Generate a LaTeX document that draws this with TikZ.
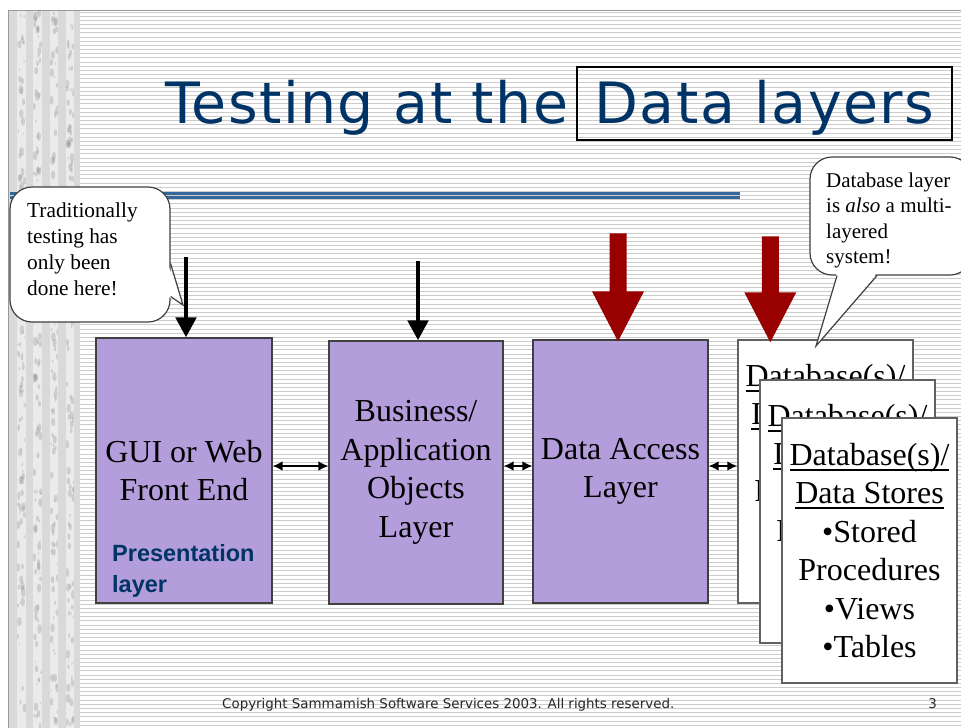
\documentclass[tikz,border=0pt]{standalone}
\usepackage{fontspec}
\setmainfont{Liberation Serif}
\newfontfamily\headfont[LetterSpace=2.5]{DejaVu Sans}
\newfontfamily\footfont{DejaVu Sans}
\newfontfamily\tagfont{Liberation Sans}
\usetikzlibrary{arrows.meta,calc}
\definecolor{navy}{RGB}{0,51,102}
\definecolor{rulebl}{RGB}{51,102,153}
\definecolor{lilac}{RGB}{179,157,219}
\definecolor{brick}{RGB}{153,0,0}
\definecolor{framegray}{RGB}{64,64,64}
% underline set at a fixed depth below the baseline
\newcommand\dbline[1]{\setbox0\hbox{#1}\leavevmode\rlap{\rule[-5.5pt]{\wd0}{1.8pt}}\box0}
\newcommand\storelist{\dbline{Database(s)/}\\\dbline{Data Stores}\\•Stored\\Procedures\\•Views\\•Tables}
\begin{document}
\begin{tikzpicture}[x=1pt,y=-1pt,
  layerbox/.style={draw=framegray, line width=1.2pt, fill=lilac, inner sep=0pt, align=center,
    font=\fontsize{32}{38.5}\selectfont},
  storecard/.style={draw=black!62, line width=1.4pt, fill=white, minimum width=175pt,
    minimum height=263pt, inner sep=0pt, align=center, font=\fontsize{32}{38.5}\selectfont},
  callbox/.style={draw=framegray, line width=1.2pt, fill=white, rounded corners=22pt, inner sep=0pt},
  calltext/.style={anchor=base west, align=left, inner sep=0pt},
  tailline/.style={draw=framegray, line width=1.2pt, line join=miter},
  link/.style={{Latex[length=10pt,width=9.5pt]}-{Latex[length=10pt,width=9.5pt]}, line width=1.5pt},
  probe/.style={-{Triangle[length=20pt,width=20pt]}, line width=4.8pt},
  heavyprobe/.style={fill=brick},
]
\clip (0,0) rectangle (961,728);
\fill[white] (0,0) rectangle (961,728);

% ruled paper background
\foreach \k in {0,...,171}
  \draw[black!20, line width=0.8pt] (80,{12+\k*4.17}) -- (961,{12+\k*4.17});

% marbled strip on the left
\fill[black!8] (8,10) rectangle (80,728);
\pgfmathsetseed{11}
\foreach \c in {17,33,50,66}{
  \foreach \k in {1,...,110}{
    \pgfmathsetmacro\px{\c+1+rnd*7}
    \pgfmathsetmacro\py{12+rnd*714}
    \pgfmathsetmacro\pr{0.6+rnd*1.8}
    \fill[black!45, opacity=0.3] (\px,\py) ellipse [x radius=\pr pt, y radius=2*\pr pt];
  }
}
\foreach \a/\b in {8/17,26/33,42/50,58/66,74/80}
  \fill[black!15] (\a,10) rectangle (\b,728);
\draw[black!40, line width=1pt] (8,728) -- (8,10) -- (961,10);

% heading
\node[anchor=base west, inner sep=0pt, font=\headfont\fontsize{57}{60}\selectfont, text=navy]
  (head) at (165,123) {Testing at the};
\node[draw=black, line width=2.5pt, minimum width=375pt, minimum height=73pt, inner sep=0pt,
  text height=42pt, text depth=3pt, font=\headfont\fontsize{57}{60}\selectfont, text=navy]
  (headbox) at (764.5,103.5) {Data layers};

% double rule under the heading
\draw[rulebl, line width=2.4pt] (10,193.5) -- (740,193.5);
\draw[rulebl, line width=2.4pt] (10,197.4) -- (740,197.4);

% layers
\node[layerbox, minimum width=176pt, minimum height=265pt] (gui) at (184,470.5) {GUI or Web\\Front End};
\node[anchor=base west, inner sep=0pt, align=left, text=navy,
  font=\tagfont\bfseries\fontsize{23.5}{31}\selectfont] (tag) at (112,592) {Presentation\\layer};
\node[layerbox, minimum width=174pt, minimum height=263pt] (biz) at (416,472.5)
  {Business/\\Application\\Objects\\Layer};
\node[layerbox, minimum width=175pt, minimum height=263pt] (dal) at (620.5,471.5) {Data Access\\Layer};

% stacked data store cards
\node[storecard] (db1) at (825.5,471.5) {\storelist};
\node[storecard] (db2) at (847.5,511.5) {\storelist};
\node[storecard, minimum height=265pt] (db3) at (869.5,550.5) {\storelist};

% test entry points
\draw[probe] ($(gui.north)+(2,-80)$) -- ($(gui.north)+(2,0)$);
\draw[probe] ($(biz.north)+(2,-79)$) -- ($(biz.north)+(2,0)$);
\fill[heavyprobe, shift={($(dal.north)+(-2.5,2)$)}]
  (0,0) -- (26,-50) -- (8.5,-50) -- (8.5,-108) -- (-8.5,-108) -- (-8.5,-50) -- (-26,-50) -- cycle;
\fill[heavyprobe, shift={($(db1.north west)+(33,3)$)}]
  (0,0) -- (26,-50) -- (8.5,-50) -- (8.5,-106) -- (-8.5,-106) -- (-8.5,-50) -- (-26,-50) -- cycle;

% links between layers
\coordinate (mid) at (0,466);
\draw[link] (gui.east |- mid) -- (biz.west |- mid);
\draw[link] (biz.east |- mid) -- (dal.west |- mid);
\draw[link] (dal.east |- mid) -- (db1.west |- mid);

% callout on the presentation layer
\node[callbox, minimum width=160pt, minimum height=135pt] (note1) at (90,254.5) {};
\coordinate (tip1) at (183,305);
\fill[white] ($(note1.east)+(-3,9)$) -- (tip1) -- ($(note1.east)+(-3,42)$) -- cycle;
\draw[tailline] ($(note1.east)+(0,9)$) -- (tip1) -- ($(note1.east)+(0,42)$);
\node[calltext, font=\fontsize{21.3}{26}\selectfont] (note1txt) at (27,295)
  {Traditionally\\testing has\\only been\\done here!};

% callout on the database layer
\node[callbox, minimum width=162pt, minimum height=118pt] (note2) at (891,216) {};
\coordinate (tip2) at (816,346);
\fill[white] ($(note2.south)+(-54,-3)$) -- (tip2) -- ($(note2.south)+(-14,-3)$) -- cycle;
\draw[tailline] ($(note2.south)+(-54,0)$) -- (tip2) -- ($(note2.south)+(-14,0)$);
\node[calltext, font=\fontsize{21}{25.5}\selectfont] (note2txt) at (826,263.5)
  {Database layer\\is \textit{also} a multi-\\layered\\system!};

% footer
\node[anchor=base west, inner sep=0pt, font=\footfont\fontsize{13.4}{15}\selectfont, text=black!85]
  (copy) at (222,708) {Copyright Sammamish Software Services 2003. All rights reserved.};
\node[anchor=base east, inner sep=0pt, font=\footfont\fontsize{13.4}{15}\selectfont, text=black!85]
  (pageno) at (937,708) {3};
\end{tikzpicture}
\end{document}
